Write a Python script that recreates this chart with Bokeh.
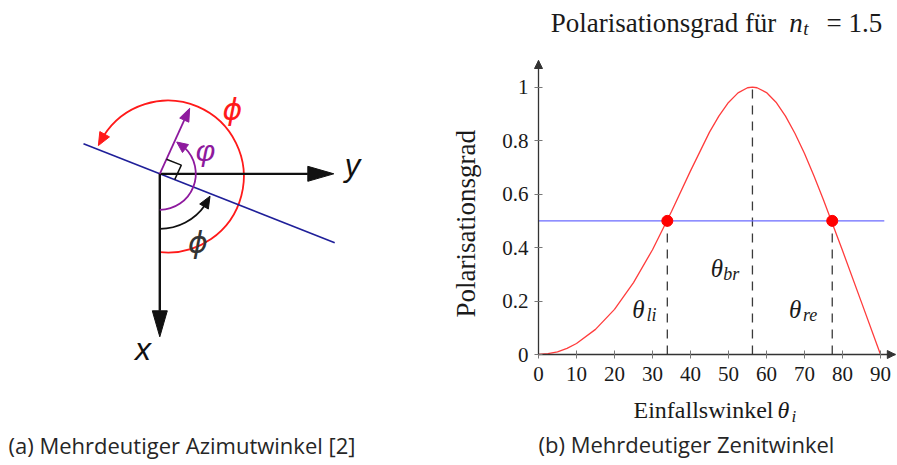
import math
from bokeh.plotting import figure
from bokeh.layouts import row
from bokeh.models import Range1d, FixedTicker, Arrow, NormalHead
from bokeh.core.properties import value
from bokeh.embed import file_html
from bokeh.resources import INLINE

# ---------------- panel (b): data ----------------
incidence_deg = [0, 2.5, 5, 7.5, 10, 15, 20, 25, 30, 35, 40, 45, 47.5, 50, 52.5, 55,
                 56.3, 57.5, 60, 62.5, 65, 67.5, 70, 72.5, 75, 80, 85, 90]
polarisation = [0, 0.003, 0.010, 0.023, 0.041, 0.094, 0.169, 0.269, 0.392, 0.535, 0.687,
                0.832, 0.893, 0.943, 0.979, 0.998, 1.0, 0.998, 0.980, 0.944, 0.892, 0.827,
                0.752, 0.668, 0.578, 0.389, 0.195, 0]
marked_angles = [33.9, 56.3, 77.3]          # theta_li, theta_br, theta_re
marked_levels = [0.5, 1.0, 0.5]
crossing_angles = [33.9, 77.3]
half_level = 0.5
half_line_span = [0, 91]
x_axis_end = 93.9
y_axis_end = 1.1
x_ticks = [0, 10, 20, 30, 40, 50, 60, 70, 80, 90]
x_tick_labels = ["0", "10", "20", "30", "40", "50", "60", "70", "80", "90"]
y_ticks = [0, 0.2, 0.4, 0.6, 0.8, 1]
y_tick_labels = ["0", "0.2", "0.4", "0.6", "0.8", "1"]

# ---------------- panel (a): diagram geometry (px, origin at axis crossing, y up) ----
x_axis_len = 163
y_axis_len = 174
axis_head_len = 26
axis_head_half = 7.5
plane_angle = -21.5
plane_ext = [-82, 188]
normal_angle = 65.5
normal_len = 72
normal_head_len = 13
normal_head_half = 5
right_angle_size = 16
varphi_arc = dict(c=(0, 0), r=36, a0=-90, tip=62)
phi_arc = dict(c=(0, 0), r=55, a0=-90, tip=-24)
phi_big_arc = dict(c=(8, -2.7), r=76, a0=-96, tip=156)

RED = "#ff1a1a"
PURPLE = "#8e1a9e"
NAVY = "#1f1f99"
DARK = "#111111"

SERIF = value("Liberation Serif")
SANS = value("Liberation Sans")
CAPTION = value("Open Sans")


def pol(r, a, c=(0, 0)):
    return (c[0] + r * math.cos(math.radians(a)), c[1] + r * math.sin(math.radians(a)))


def unit(tip, base):
    dx, dy = tip[0] - base[0], tip[1] - base[1]
    n = math.hypot(dx, dy)
    return dx / n, dy / n


def tri(tip, ux, uy, length, half):
    bx, by = tip[0] - ux * length, tip[1] - uy * length
    px, py = -uy, ux
    return ([tip[0], bx + px * half, bx - px * half], [tip[1], by + py * half, by - py * half])


# ---------------- figure (a): 1 data unit = 1 px ----------------
pa = figure(width=448, height=465, x_range=Range1d(-159.3, 288.7), y_range=Range1d(-291.7, 173.3),
            output_backend="svg", toolbar_location=None, x_axis_type=None, y_axis_type=None,
            min_border=0, title=None)
pa.grid.visible = False
pa.outline_line_color = None


def draw_arc(spec, color, lw, hlen, hhalf):
    c, r = spec["c"], spec["r"]
    base_a = spec["tip"] - math.degrees(hlen / r)
    pa.arc(x=[c[0]], y=[c[1]], radius=r, start_angle=math.radians(spec["a0"]),
           end_angle=math.radians(base_a + 2), direction="anticlock", line_color=color, line_width=lw)
    tip = pol(r, spec["tip"], c)
    base = pol(r, base_a, c)
    ux, uy = unit(tip, base)
    xs, ys = tri(tip, ux, uy, math.hypot(tip[0] - base[0], tip[1] - base[1]), hhalf)
    pa.patch(xs, ys, fill_color=color, line_color=color, line_width=1)


draw_arc(phi_big_arc, RED, 1.8, 13, 5.5)

# blue plane
p0 = pol(plane_ext[0], plane_angle)
p1 = pol(plane_ext[1], plane_angle)
pa.line([p0[0], p1[0]], [p0[1], p1[1]], line_color=NAVY, line_width=1.6)

# axes
pa.line([0, 0], [0, -(x_axis_len - axis_head_len)], line_color=DARK, line_width=2.4)
xs, ys = tri((0, -x_axis_len), 0, -1, axis_head_len, axis_head_half)
pa.patch(xs, ys, fill_color=DARK, line_color=DARK)
pa.line([0, y_axis_len - axis_head_len], [0, 0], line_color=DARK, line_width=2.2)
xs, ys = tri((y_axis_len, 0), 1, 0, axis_head_len, axis_head_half)
pa.patch(xs, ys, fill_color=DARK, line_color=DARK)

# normal arrow
ntip = pol(normal_len, normal_angle)
nbase = pol(normal_len - normal_head_len, normal_angle)
pa.line([0, nbase[0]], [0, nbase[1]], line_color=PURPLE, line_width=1.8)
ux, uy = unit(ntip, nbase)
xs, ys = tri(ntip, ux, uy, normal_head_len, normal_head_half)
pa.patch(xs, ys, fill_color=PURPLE, line_color=PURPLE)

# right-angle mark
a1 = pol(right_angle_size, normal_angle)
a3 = pol(right_angle_size, plane_angle)
pa.line([a1[0], a1[0] + a3[0], a3[0]], [a1[1], a1[1] + a3[1], a3[1]], line_color=DARK, line_width=1.5)

# small arcs
draw_arc(varphi_arc, PURPLE, 1.8, 11, 5)
draw_arc(phi_arc, DARK, 1.8, 12, 5)


def txt(fig, x, y, s, size, font=SANS, italic=False, color=DARK, align="left",
        baseline="alphabetic", angle=0.0):
    fig.text(x=[x], y=[y], text=[s], text_font=font, text_font_style="italic" if italic else "normal",
             text_font_size=size, text_align=align, text_baseline=baseline, text_color=color, angle=angle)


txt(pa, -16.8, -174.7, "x", "32px", italic=True, align="center")
txt(pa, 192.7, 8.7, "y", "31px", italic=True, align="center")
txt(pa, 45.7, 23.0, "\u03c6", "30px", italic=True, color=PURPLE, align="center", baseline="middle")
txt(pa, 38.2, -68.7, "\u03d5", "30px", font=value("DejaVu Sans"), italic=True, color="#333333",
    align="center", baseline="middle")
txt(pa, 72.7, 64.3, "\u03d5", "30px", font=value("DejaVu Sans"), italic=True, color=RED,
    align="center", baseline="middle")
txt(pa, -151.3, -270.7, "(a) Mehrdeutiger Azimutwinkel [2]", "22px", font=CAPTION, color="#262626")

# ---------------- figure (b): frame covers the whole canvas ----------------
KX = 3.8        # px per degree
KY = 294 / 1.1  # px per unit of polarisation
X0, Y0 = 538 - 448, 354   # origin inside this canvas (px)
pb = figure(width=449, height=465,
            x_range=Range1d(-X0 / KX, (449 - X0) / KX), y_range=Range1d((Y0 - 465) / KY, Y0 / KY),
            output_backend="svg", toolbar_location=None, title=None, min_border=0)
pb.grid.visible = False
pb.outline_line_color = None

pb.segment(x0=marked_angles, y0=[0] * len(marked_angles), x1=marked_angles, y1=marked_levels,
           line_color="#3a3a3a", line_width=1.3, line_dash="9 7")
pb.line(incidence_deg, polarisation, line_color="#ff3c3c", line_width=1.3)
pb.line(half_line_span, [half_level] * len(half_line_span), line_color="#6a6aff", line_width=1.3)
pb.scatter(crossing_angles, [half_level] * len(crossing_angles), size=11, fill_color="#ff0000",
           line_color="#ff0000")

AX = "#333333"
for ax, ticks, labels, end in ((pb.xaxis[0], x_ticks, x_tick_labels, x_axis_end),
                               (pb.yaxis[0], y_ticks, y_tick_labels, y_axis_end)):
    ax.fixed_location = 0
    ax.bounds = (0, end)
    ax.ticker = FixedTicker(ticks=ticks)
    ax.major_label_overrides = {t: l for t, l in zip(ticks, labels)}
    ax.axis_line_color = AX
    ax.axis_line_width = 1.3
    ax.major_tick_line_color = "#777777"
    ax.major_tick_line_width = 1
    ax.major_tick_in = 4
    ax.major_tick_out = 4
    ax.minor_tick_line_color = None
    ax.major_label_text_font = "Liberation Serif"
    ax.major_label_text_font_size = "21px"
    ax.major_label_text_color = "#1a1a1a"
pb.xaxis[0].major_label_standoff = 8
pb.yaxis[0].major_label_standoff = 6

pb.add_layout(Arrow(end=NormalHead(size=8, fill_color=AX, line_color=AX), x_start=x_axis_end - 2,
                    y_start=0, x_end=x_axis_end, y_end=0, line_color=AX, line_width=1.3))
pb.add_layout(Arrow(end=NormalHead(size=8, fill_color=AX, line_color=AX), x_start=0,
                    y_start=y_axis_end - 0.03, x_end=0, y_end=y_axis_end, line_color=AX, line_width=1.3))

INK = "#1a1a1a"
# title
txt(pb, 3.2, 1.240, "Polarisationsgrad f\u00fcr", "27px", font=SERIF, color=INK)
txt(pb, 66.0, 1.240, "n", "27px", font=SERIF, italic=True, color=INK)
txt(pb, 69.7, 1.218, "t", "19px", font=SERIF, italic=True, color=INK)
txt(pb, 75.8, 1.240, "= 1.5", "27px", font=SERIF, color=INK)
# axis labels
txt(pb, -19.0, 0.489, "Polarisationsgrad", "27px", font=SERIF, color=INK, align="center",
    angle=math.pi / 2)
txt(pb, 25.0, -0.2076, "Einfallswinkel", "24px", font=SERIF, color=INK)
txt(pb, 62.9, -0.2076, "\u03b8", "24px", font=SERIF, italic=True, color=INK)
txt(pb, 66.6, -0.232, "i", "17px", font=SERIF, italic=True, color=INK)
# theta labels
for (tx, ty, sx, sy, sub) in ((24.7, 0.170, 28.4, 0.147, "li"),
                              (45.3, 0.3235, 48.6, 0.300, "br"),
                              (65.9, 0.170, 69.6, 0.147, "re")):
    txt(pb, tx, ty, "\u03b8", "25px", font=SERIF, italic=True, color=INK)
    txt(pb, sx, sy, sub, "18px", font=SERIF, italic=True, color=INK)
# caption
txt(pb, 0, -0.3366, "(b) Mehrdeutiger Zenitwinkel", "22px", font=CAPTION, color="#262626")

layout = row(pa, pb)
open("out.html", "w").write(file_html(layout, INLINE))
